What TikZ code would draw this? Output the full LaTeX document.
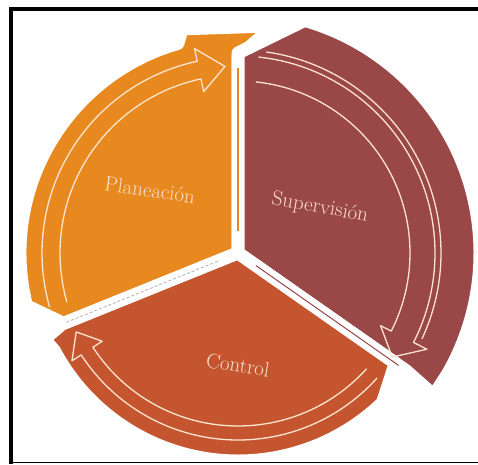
\documentclass[tikz,border=0pt]{standalone}
\usepackage{tikz}

\definecolor{planc}{HTML}{E8891F}
\definecolor{supc}{HTML}{9A4747}
\definecolor{ctrlc}{HTML}{C4552E}
\definecolor{rimc}{HTML}{FCE4D0}
\definecolor{txtc}{HTML}{F7DDCB}

\tikzset{
  seg/.style={draw=white, line width=13pt, line join=round},
  rim/.style={draw=rimc, line width=1.3pt, line join=round},
  lbl/.style={text=txtc, font=\fontsize{21}{24}\selectfont, inner sep=0pt},
  frame/.style={draw=black, line width=4pt}
}

\begin{document}
\begin{tikzpicture}[x=1pt,y=1pt]
  \useasboundingbox (0,0) rectangle (478,464);
  \fill[white] (0,0) rectangle (478,464);

  \begin{scope}[shift={(238,211)}]
    % Planeacion
    \path[seg, fill=planc] (0,0) -- (202:188) -- (194:218)
      arc[start angle=194, end angle=106, radius=218pt]
      -- (104:231) -- (81:230) -- (90:196) -- cycle;
    % Supervision
    \path[seg, fill=supc] (0,0) -- (90:200) -- (74:242)
      arc[start angle=74, end angle=-30, radius=242pt]
      -- (-36:242) -- (-35:205) -- cycle;
    % Control
    \path[seg, fill=ctrlc] (0,0) -- (-35:192) -- (-46:208)
      arc[start angle=-46, end angle=-152, radius=208pt]
      -- (-156:212) -- (202:190) -- cycle;

    % edges in the gaps
    \draw[planc, line width=2.5pt] (90:22) -- (90:185);
    \draw[gray!60, densely dashed, line width=0.8pt] (202:22) -- (202:185);
    \draw[supc, line width=1pt] (-35:22) -- (-35:196);

    % arrows inside the segments
    \draw[rim] (196:196) arc[start angle=196, end angle=102, radius=196pt]
      -- (102:209) -- (94:187) -- (102:165) -- (102:178)
      arc[start angle=102, end angle=196, radius=178pt];
    \draw[rim] (84:197) arc[start angle=84, end angle=-27, radius=197pt]
      -- (-27:212) -- (-34:186) -- (-27:160) -- (-27:172)
      arc[start angle=-27, end angle=84, radius=172pt];
    \draw[rim] (82:203) arc[start angle=82, end angle=-25, radius=203pt];
    \draw[rim] (-42:187) arc[start angle=-42, end angle=-147, radius=187pt]
      -- (-147:198) -- (-154:180) -- (-147:162) -- (-147:173)
      arc[start angle=-147, end angle=-42, radius=173pt];
  \end{scope}

  \node[lbl, rotate=-8] (plan) at (150,274) {Planeación};
  \node[lbl, rotate=-10] (sup) at (320,256) {Supervisión};
  \node[lbl, rotate=-9] (ctrl) at (238,99) {Control};

  % frame
  \draw[frame] (11,0) -- (11,455) -- (490,455);
  \draw[line width=1.5pt] (11,1.5) -- (490,1.5);
\end{tikzpicture}
\end{document}
